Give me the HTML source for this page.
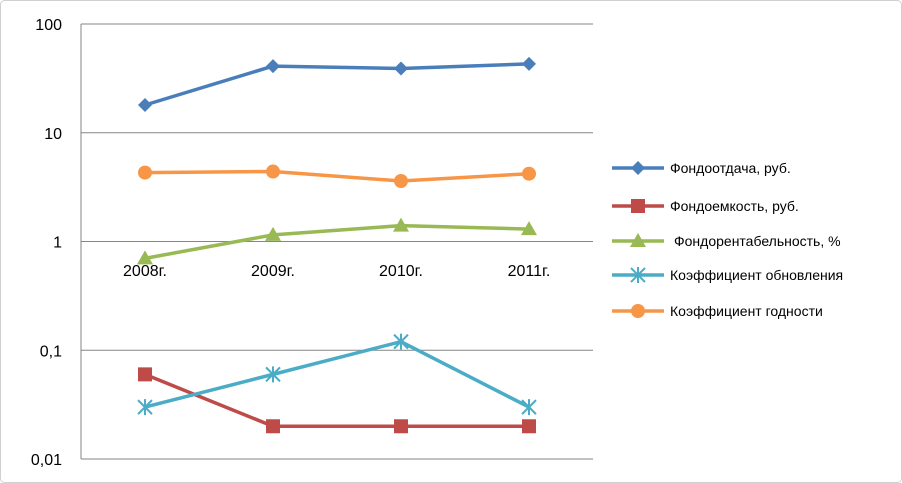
<!DOCTYPE html>
<html><head><meta charset="utf-8"><style>
body{margin:0;background:#fff;}
svg{display:block;font-family:"Liberation Sans",sans-serif;}
</style></head><body>
<svg id="chart" width="902" height="483">
<rect x="0.5" y="0.5" width="901" height="482" rx="4" fill="#fff" stroke="#d0d0d0"/>
<g id="grid"></g><g id="series"></g><g id="legend"></g>
</svg>
<script>
const categories=["2008г.","2009г.","2010г.","2011г."];
const tickLabels=["100","10","1","0,1","0,01"];
const tickValues=[100,10,1,0.1,0.01];
const seriesNames=["Фондоотдача, руб.","Фондоемкость, руб.","Фондорентабельность, %","Коэффициент обновления","Коэффициент годности"];
const fondootdacha=[18,41,39,43];
const fondoemkost=[0.06,0.02,0.02,0.02];
const rentabelnost=[0.7,1.15,1.4,1.3];
const obnovlenie=[0.03,0.06,0.12,0.03];
const godnost=[4.3,4.4,3.6,4.2];
const NS="http://www.w3.org/2000/svg";
const X0=81,X1=593,Y100=24,DEC=108.75;
function xs(i){return X0+(X1-X0)/categories.length*(i+0.5);}
function ys(v){return Y100+(2-Math.log10(v))*DEC;}
function mk(p,t,a){const e=document.createElementNS(NS,t);for(const k in a)e.setAttribute(k,a[k]);p.appendChild(e);return e;}
const grid=document.getElementById('grid');
tickValues.forEach((v,i)=>{
 const l=mk(grid,'line',{x1:X0,x2:X1,y1:ys(v),y2:ys(v),stroke:'#868686','stroke-width':1});
 
 
 const t=mk(grid,'text',{x:62,y:ys(v)+6,'text-anchor':'end','font-size':16,fill:'#000'});
 t.textContent=tickLabels[i];
 
 
});
const ax=mk(grid,'line',{x1:X0,x2:X0,y1:ys(100),y2:ys(0.01),stroke:'#868686'});


categories.forEach((c,i)=>{
 const t=mk(grid,'text',{x:xs(i),y:276,'text-anchor':'middle','font-size':16,fill:'#000'});
 t.textContent=c;
 
 
});
const colors=['#4a7ebb','#be4b48','#98b954','#4bacc6','#f79646'];
const markers=['diamond','square','triangle','star','circle'];
const data=[fondootdacha,fondoemkost,rentabelnost,obnovlenie,godnost];
function marker(p,type,x,y,c){
 let e;
 if(type==='diamond')e=mk(p,'polygon',{points:`${x},${y-7} ${x+7},${y} ${x},${y+7} ${x-7},${y}`,fill:c});
 else if(type==='square')e=mk(p,'rect',{x:x-7,y:y-7,width:14,height:14,fill:c});
 else if(type==='triangle')e=mk(p,'polygon',{points:`${x},${y-8} ${x+8},${y+6} ${x-8},${y+6}`,fill:c});
 else if(type==='circle')e=mk(p,'circle',{cx:x,cy:y,r:7,fill:c});
 else e=mk(p,'path',{d:`M${x-7},${y-7}L${x+7},${y+7}M${x-7},${y+7}L${x+7},${y-7}M${x},${y-8}V${y+8}`,stroke:c,'stroke-width':2,fill:'none'});
 
 
}
const sg=document.getElementById('series');
data.forEach((arr,s)=>{
 const g=mk(sg,'g',{});
 
 
 const pl=mk(g,'polyline',{points:arr.map((v,i)=>xs(i)+','+ys(v)).join(' '),fill:'none',stroke:colors[s],'stroke-width':3.5,'stroke-linejoin':'round'});
 
 
 arr.forEach((v,i)=>marker(g,markers[s],xs(i),ys(v),colors[s]));
});
const lg=document.getElementById('legend');
const ly=[168,206,241,275,311];
seriesNames.forEach((n,s)=>{
 const g=mk(lg,'g',{});
 
 
 mk(g,'line',{x1:612,x2:664,y1:ly[s],y2:ly[s],stroke:colors[s],'stroke-width':3.5});
 marker(g,markers[s],638,ly[s],colors[s]);
 const t=mk(g,'text',{x:s===2?674:670,y:ly[s]+5,'font-size':14,fill:'#000'});
 t.textContent=n;
 
 
});
</script>
</body></html>
